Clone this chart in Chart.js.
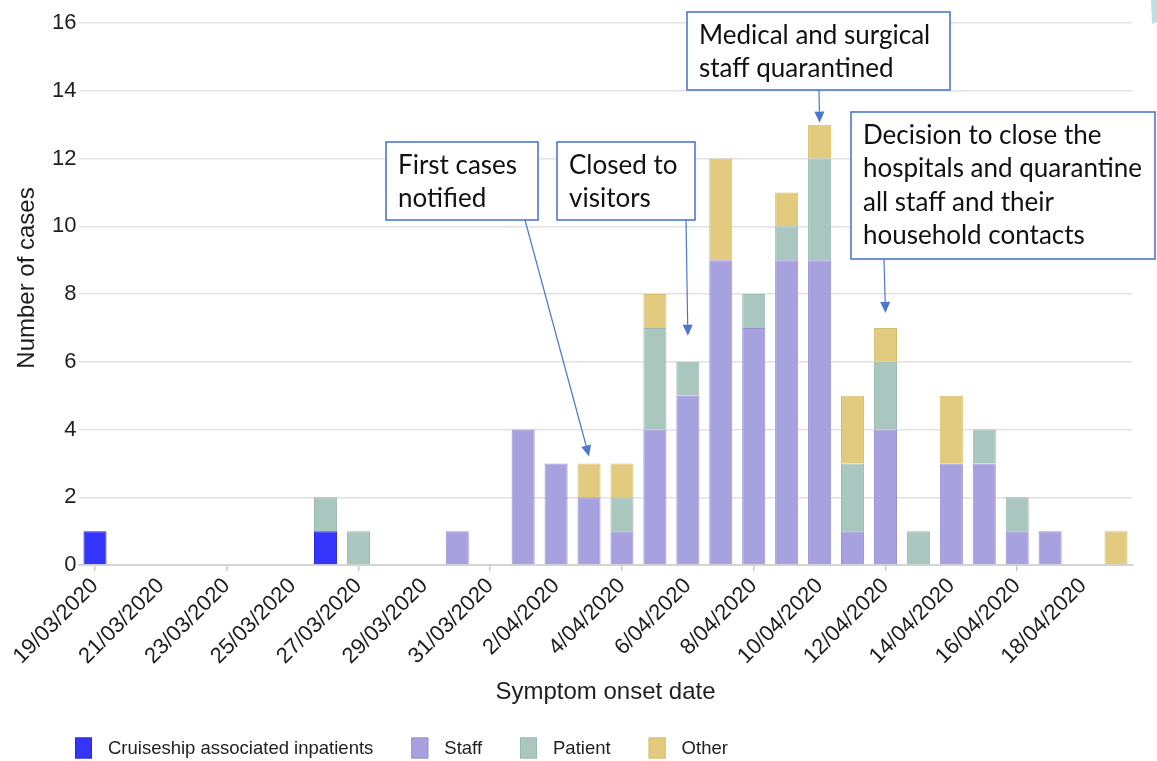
<!DOCTYPE html>
<html><head><meta charset="utf-8">
<script src="https://cdn.jsdelivr.net/npm/chart.js@4"></script>
<style>html,body{margin:0;padding:0;background:#fff}canvas{display:block}</style>
</head><body>
<canvas id="c" width="1157" height="761"></canvas>
<script>
// ---- data ----
const dates = ['19/03/2020','20/03/2020','21/03/2020','22/03/2020','23/03/2020','24/03/2020','25/03/2020','26/03/2020','27/03/2020','28/03/2020','29/03/2020','30/03/2020','31/03/2020',
  '1/04/2020','2/04/2020','3/04/2020','4/04/2020','5/04/2020','6/04/2020','7/04/2020','8/04/2020','9/04/2020','10/04/2020','11/04/2020','12/04/2020','13/04/2020','14/04/2020','15/04/2020','16/04/2020','17/04/2020','18/04/2020','19/04/2020'];
const cruiseship = [1,0,0,0,0,0,0,1,0,0,0,0,0,0,0,0,0,0,0,0,0,0,0,0,0,0,0,0,0,0,0,0];
const staff      = [0,0,0,0,0,0,0,0,0,0,0,1,0,4,3,2,1,4,5,9,7,9,9,1,4,0,3,3,1,1,0,0];
const patient    = [0,0,0,0,0,0,0,1,1,0,0,0,0,0,0,0,1,3,1,0,1,1,3,2,2,1,0,1,1,0,0,0];
const other      = [0,0,0,0,0,0,0,0,0,0,0,0,0,0,0,1,1,1,0,3,0,1,1,2,1,0,2,0,0,0,0,1];
const seriesNames = ['Cruiseship associated inpatients','Staff','Patient','Other'];
const yMin = 0, yMax = 16, yStep = 2;
const xTitle = 'Symptom onset date';
const yTitle = 'Number of cases';
const notes = [
  {lines:['First cases','notified'], target:'3/04/2020'},
  {lines:['Closed to','visitors'], target:'6/04/2020'},
  {lines:['Medical and surgical','staff quarantined'], target:'10/04/2020'},
  {lines:['Decision to close the','hospitals and quarantine','all staff and their','household contacts'], target:'12/04/2020'}
];

// ---- styling / layout (not data) ----
const fills   = ['#3434fb','#a7a1df','#a9c7bf','#e2cb7e'];
const borders = ['#2626e0','#9892d4','#9ab9b1','#d6bd6c'];
const noteLayout = [
  {box:[386,142,152,78], from:[525,220], gap:7},
  {box:[557,142,138,78], from:[686,220], gap:26},
  {box:[687,12,263,78],  from:[819,90],  gap:2},
  {box:[851,112,304,147],from:[884,259], gap:15}
];
const FONT = "'Liberation Sans', Arial, sans-serif";
const NOTE_FONT = "26px Lato, 'Open Sans', sans-serif";
const NOTE_BLUE = '#4a78cf';

const toBars = arr => arr.map(v => v === 0 ? null : v);
const seriesData = [cruiseship, staff, patient, other];

const annotationPlugin = {
  id: 'notes',
  afterDraw(chart) {
    const ctx = chart.ctx, xs = chart.scales.x, ys = chart.scales.y;
    ctx.save();
    // corner fragment
    ctx.fillStyle = '#bfe0e0';
    ctx.beginPath(); ctx.moveTo(1151,0); ctx.lineTo(1157,0); ctx.lineTo(1157,22); ctx.lineTo(1152,24); ctx.closePath(); ctx.fill();
    notes.forEach((n, k) => {
      const L = noteLayout[k];
      const idx = dates.indexOf(n.target);
      const total = seriesData.reduce((s, a) => s + a[idx], 0);
      const tx = xs.getPixelForValue(idx);
      const ty = ys.getPixelForValue(total) - L.gap;
      const [fx, fy] = L.from;
      ctx.strokeStyle = NOTE_BLUE; ctx.fillStyle = NOTE_BLUE; ctx.lineWidth = 1.2;
      const ang = Math.atan2(ty - fy, tx - fx);
      const hl = 11, hw = 5;
      const bx = tx - hl*Math.cos(ang), by = ty - hl*Math.sin(ang);
      ctx.beginPath(); ctx.moveTo(fx, fy); ctx.lineTo(bx, by); ctx.stroke();
      ctx.beginPath();
      ctx.moveTo(tx, ty);
      ctx.lineTo(bx + hw*Math.sin(ang), by - hw*Math.cos(ang));
      ctx.lineTo(bx - hw*Math.sin(ang), by + hw*Math.cos(ang));
      ctx.closePath(); ctx.fill();
      const [x, y, w, h] = L.box;
      ctx.fillStyle = '#ffffff';
      ctx.fillRect(x, y, w, h);
      ctx.lineWidth = 1.6; ctx.strokeStyle = NOTE_BLUE;
      ctx.strokeRect(x, y, w, h);
      ctx.fillStyle = '#111111'; ctx.font = NOTE_FONT;
      ctx.textAlign = 'left'; ctx.textBaseline = 'middle';
      n.lines.forEach((t, i) => ctx.fillText(t, x + 12, y + 23.5 + i*33.5));
    });
    // y axis title
    ctx.save();
    ctx.translate(27, 278); ctx.rotate(-Math.PI/2);
    ctx.font = '24px ' + FONT; ctx.fillStyle = '#1e1e1e'; ctx.textAlign = 'center'; ctx.textBaseline = 'middle';
    ctx.fillText(yTitle, 0, 0);
    ctx.restore();
    // legend
    ctx.font = '18.5px ' + FONT; ctx.textBaseline = 'middle'; ctx.textAlign = 'left';
    let lx = 75; const ly = 748;
    chart.data.datasets.forEach(ds => {
      ctx.fillStyle = ds.backgroundColor; ctx.strokeStyle = ds.borderColor; ctx.lineWidth = 1;
      ctx.fillRect(lx, ly - 10.5, 17, 21); ctx.strokeRect(lx + 0.5, ly - 10, 16, 20);
      ctx.fillStyle = '#222';
      ctx.fillText(ds.label, lx + 17 + 16, ly + 1);
      lx += 17 + 16 + ctx.measureText(ds.label).width + 38;
    });
    ctx.restore();
  }
};

new Chart(document.getElementById('c'), {
  type: 'bar',
  data: {
    labels: dates,
    datasets: seriesData.map((arr, i) => ({
      label: seriesNames[i], data: toBars(arr),
      backgroundColor: fills[i], borderColor: borders[i], borderWidth: 1,
      barPercentage: 0.7, categoryPercentage: 1.0
    }))
  },
  options: {
    responsive: false, animation: false, devicePixelRatio: 1,
    layout: {padding: {left: 0, right: 24.5, top: 23, bottom: 51}},
    plugins: {legend: {display: false}, tooltip: {enabled: false}},
    scales: {
      x: {
        stacked: true, offset: true,
        afterFit: s => { s.height = 145; },
        grid: {display: true, offset: false, drawOnChartArea: false, drawTicks: true, tickLength: 6,
               color: c => (c.index % 2 === 0 ? '#c8c8c8' : 'rgba(0,0,0,0)'), lineWidth: 1.5},
        border: {display: true, color: '#d4d4d4', width: 2},
        ticks: {autoSkip: false, minRotation: 45, maxRotation: 45, padding: 2, color: '#1e1e1e',
                font: {family: FONT, size: 22},
                callback: function(v, i) { return i % 2 === 0 ? this.getLabelForValue(v) : null; }},
        title: {display: true, text: xTitle, color: '#1e1e1e', font: {family: FONT, size: 24}, padding: {top: 0, bottom: 3}}
      },
      y: {
        stacked: true, min: yMin, max: yMax,
        afterFit: s => { s.width = 78.5; },
        grid: {color: '#e2e2e2', lineWidth: 1.5, drawTicks: false},
        border: {display: false},
        ticks: {stepSize: yStep, padding: 2, color: '#1e1e1e', font: {family: FONT, size: 22}},
        title: {display: false}
      }
    }
  },
  plugins: [annotationPlugin]
});
</script>
</body></html>
